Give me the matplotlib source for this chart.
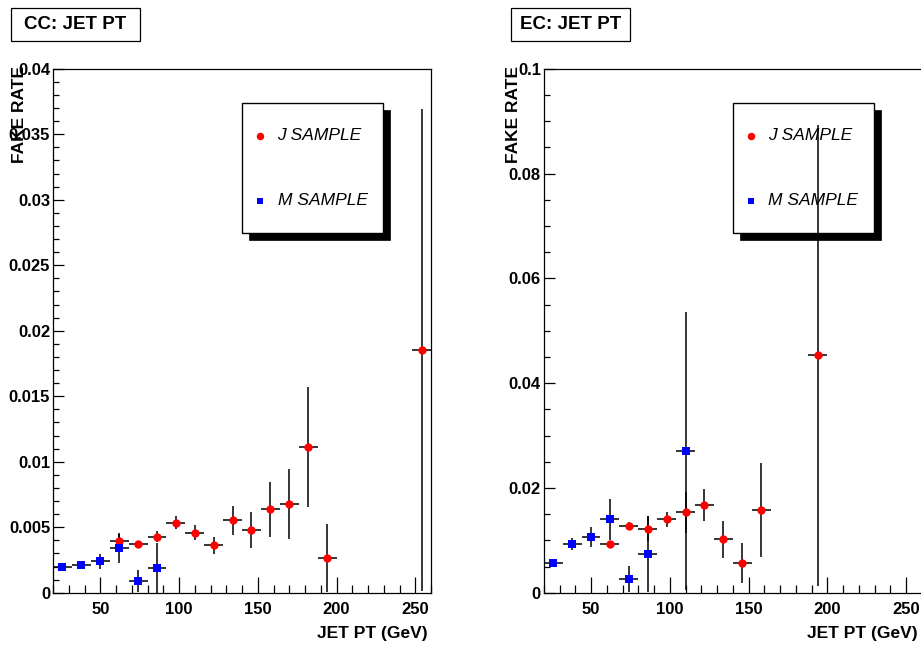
import numpy as np
import matplotlib.pyplot as plt
from matplotlib.patches import Rectangle
from matplotlib.ticker import MultipleLocator, FuncFormatter

plt.rcParams['font.family'] = ['Liberation Sans', 'DejaVu Sans']

# 12 GeV bins, points at the bin centre
x_half = 6

# CC
cc_j_pt = [62, 74, 86, 98, 110, 122, 134, 146, 158, 170, 182, 194, 254]
cc_j_rate = [0.00397, 0.00372, 0.00428, 0.00534, 0.00458, 0.00362, 0.00553,
             0.00481, 0.00637, 0.00677, 0.01112, 0.00267, 0.01853]
cc_j_err = [0.0005, 0.0002, 0.0004, 0.00048, 0.00055, 0.00067, 0.00112,
            0.00136, 0.0021, 0.0027, 0.00455, 0.0026, 0.0184]

cc_m_pt = [26, 38, 50, 62, 74, 86]
cc_m_rate = [0.00194, 0.00214, 0.0024, 0.00339, 0.00089, 0.0019]
cc_m_err = [0.0001, 0.00015, 0.00057, 0.00115, 0.00084, 0.0019]

# EC
ec_j_pt = [62, 74, 86, 98, 110, 122, 134, 146, 158, 194]
ec_j_rate = [0.00933, 0.01276, 0.0122, 0.01398, 0.01531, 0.01676, 0.01017,
             0.0056, 0.0158, 0.04528]
ec_j_err = [0.0003, 0.0008, 0.0024, 0.00137, 0.004, 0.003, 0.00346,
            0.0038, 0.009, 0.044]

ec_m_pt = [26, 38, 50, 62, 74, 86, 110]
ec_m_rate = [0.0056, 0.00933, 0.0106, 0.01404, 0.0026, 0.00737, 0.027]
ec_m_err = [0.0002, 0.0011, 0.00197, 0.0039, 0.0025, 0.0072, 0.0265]

leg_labels = ['J SAMPLE', 'M SAMPLE']
leg_colors = ['#ff0000', '#0000ff']
leg_markers = ['o', 's']

W, H = 921, 648
fig = plt.figure(figsize=(W / 100, H / 100), dpi=100)


def px_axes(left, top, width, height):
    return fig.add_axes([left / W, 1 - (top + height) / H, width / W, height / H])


def title_box(left, top, width, height, text):
    fig.add_artist(Rectangle((left / W, 1 - (top + height) / H), width / W, height / H,
                             transform=fig.transFigure, facecolor='white',
                             edgecolor='black', lw=0.9))
    fig.text((left + width / 2) / W, 1 - (top + height / 2) / H, text,
             ha='center', va='center', fontsize=13.5, fontweight='bold')


def draw_legend(ax):
    x0, y0, w, h = 0.5, 0.686, 0.374, 0.248
    ax.add_patch(Rectangle((x0 + 0.0185, y0 - 0.0134), w, h, transform=ax.transAxes,
                           facecolor='black', edgecolor='black', lw=0.5, zorder=1))
    ax.add_patch(Rectangle((x0, y0), w, h, transform=ax.transAxes,
                           facecolor='white', edgecolor='black', lw=1.0, zorder=2))
    rows = [0.872, 0.748]
    for yy, lab, col, mk in zip(rows, leg_labels, leg_colors, leg_markers):
        ax.plot([x0 + 0.047], [yy], marker=mk, color=col, ms=5.4 if mk == 'o' else 5.0,
                mew=0, transform=ax.transAxes, zorder=3, clip_on=False)
        ax.text(x0 + 0.094, yy, lab, transform=ax.transAxes, fontsize=12.5,
                style='italic', ha='left', va='center', zorder=3)


def panel(ax, j, m, ymax, ymaj, ymin_step, ylab_x):
    ax.errorbar(j[0], j[1], xerr=x_half, yerr=j[2], fmt='o', color='#ff0000',
                ecolor='black', elinewidth=1.1, capsize=0, ms=6.0, mew=0, zorder=4)
    ax.errorbar(m[0], m[1], xerr=x_half, yerr=m[2], fmt='s', color='#0000ff',
                ecolor='black', elinewidth=1.1, capsize=0, ms=5.4, mew=0, zorder=4)
    ax.set_xlim(20, 260)
    ax.set_ylim(0, ymax)
    ax.xaxis.set_major_locator(MultipleLocator(50))
    ax.xaxis.set_minor_locator(MultipleLocator(10))
    ax.yaxis.set_major_locator(MultipleLocator(ymaj))
    ax.yaxis.set_minor_locator(MultipleLocator(ymin_step))
    ax.yaxis.set_major_formatter(FuncFormatter(lambda v, p: '%g' % round(v, 6)))
    ax.tick_params(axis='x', which='major', direction='in', length=11.3, width=0.9,
                   labelsize=12, pad=6.5)
    ax.tick_params(axis='x', which='minor', direction='in', length=5.6, width=0.9)
    ax.tick_params(axis='y', which='major', direction='in', length=8.2, width=0.9,
                   labelsize=12, pad=2)
    ax.tick_params(axis='y', which='minor', direction='in', length=4.1, width=0.9)
    for lab in ax.get_xticklabels() + ax.get_yticklabels():
        lab.set_fontweight('bold')
    for sp in ax.spines.values():
        sp.set_linewidth(0.9)
    # ROOT puts the axis title at the top end of the axis
    ax.text(ylab_x, 1.006, 'FAKE RATE', rotation=90, ha='center', va='top',
            transform=ax.transAxes, fontsize=12.5, fontweight='bold')
    ax.text(0.99, -0.077, 'JET PT (GeV)', ha='right', va='center',
            transform=ax.transAxes, fontsize=12.5, fontweight='bold')
    draw_legend(ax)


ax1 = px_axes(53, 68.7, 378, 524)
ax2 = px_axes(543.75, 68.7, 378, 524)

panel(ax1, (cc_j_pt, cc_j_rate, cc_j_err), (cc_m_pt, cc_m_rate, cc_m_err),
      0.04, 0.005, 0.001, -0.089)
panel(ax2, (ec_j_pt, ec_j_rate, ec_j_err), (ec_m_pt, ec_m_rate, ec_m_err),
      0.1, 0.02, 0.005, -0.081)

title_box(11, 7.7, 129, 33.3, 'CC: JET PT')
title_box(511, 7.7, 119, 33.3, 'EC: JET PT')

fig.savefig('out.png', dpi=100)
